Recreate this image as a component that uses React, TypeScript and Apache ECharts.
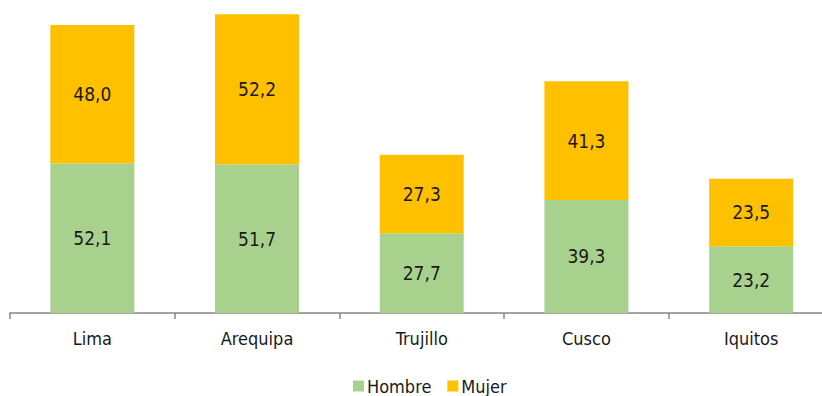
import React, { useEffect, useRef } from "react";
import * as echarts from "echarts";

const categories = ["Lima", "Arequipa", "Trujillo", "Cusco", "Iquitos"];
const hombre = [52.1, 51.7, 27.7, 39.3, 23.2];
const mujer = [48.0, 52.2, 27.3, 41.3, 23.5];

const FONT = "'Liberation Sans Narrow', 'Arial Narrow', 'DejaVu Sans Condensed', 'Liberation Sans', Arial, sans-serif";

export default function App() {
  const ref = useRef<HTMLDivElement>(null);
  useEffect(() => {
    if (!ref.current) return;
    const chart = echarts.init(ref.current, undefined, { renderer: "svg" });
    const fmt = (p: any) => Number(p.value).toFixed(1).replace(".", ",");
    chart.setOption({
      animation: false,
      grid: { left: 10, width: 823.5, top: 11, height: 302, containLabel: false, outerBoundsMode: "none" },
      legend: {
        top: 372,
        left: 348,
        itemWidth: 11,
        itemHeight: 11,
        itemGap: 16,
        icon: "rect",
        textStyle: { fontFamily: FONT, fontSize: 18, color: "#1a1a1a", padding: [0, 0, 0, -2] },
        data: ["Hombre", "Mujer"],
      },
      xAxis: {
        type: "category",
        data: categories,
        axisLine: { lineStyle: { color: "#868686", width: 1.5 } },
        axisTick: { show: true, length: 6, lineStyle: { color: "#868686", width: 1.5 } },
        axisLabel: { fontFamily: FONT, fontSize: 18, color: "#1a1a1a", margin: 16 },
      },
      yAxis: {
        type: "value",
        min: 0,
        max: 105,
        show: false,
        splitLine: { show: false },
      },
      series: [
        {
          name: "Hombre",
          type: "bar",
          stack: "total",
          data: hombre,
          barWidth: "51%",
          itemStyle: { color: "#A9D18E" },
          label: { show: true, position: "inside", formatter: fmt, fontFamily: FONT, fontSize: 19, color: "#1a1a1a" },
        },
        {
          name: "Mujer",
          type: "bar",
          stack: "total",
          data: mujer,
          barWidth: "51%",
          itemStyle: { color: "#FFC000" },
          label: { show: true, position: "inside", formatter: fmt, fontFamily: FONT, fontSize: 19, color: "#1a1a1a" },
        },
      ],
    });
    return () => chart.dispose();
  }, []);
  return <div ref={ref} style={{ width: 822, height: 396, position: "absolute", left: 0, top: 0 }} />;
}
